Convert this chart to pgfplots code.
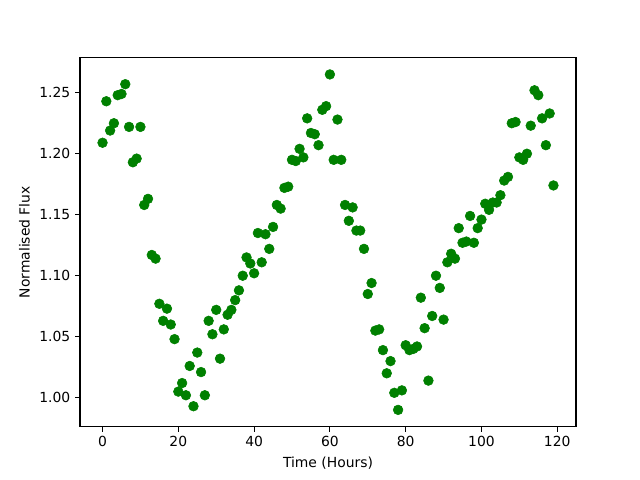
\documentclass[border=0pt]{standalone}
\usepackage{pgfplots}
\pgfplotsset{compat=1.18}
\usepackage{fontspec}
\setmainfont{DejaVu Sans}
\definecolor{mplgreen}{HTML}{008000}
\begin{document}
\fontsize{10}{12}\selectfont
\begin{tikzpicture}
\useasboundingbox (-57.6pt,-38.02pt) rectangle (403.2pt,307.2pt);
\begin{axis}[
  scale only axis,
  width=357.12pt, height=265.68pt,
  xmin=-5.95, xmax=124.95,
  ymin=0.97625, ymax=1.27875,
  xtick={0,20,40,60,80,100,120},
  ytick={1.00,1.05,1.10,1.15,1.20,1.25},
  yticklabel style={/pgf/number format/.cd, fixed, fixed zerofill, precision=2},
  /pgf/number format/assume math mode=true,
  tick align=outside,
  tick pos=left,
  major tick length=3.5pt,
  every tick/.style={line width=0.8pt, black},
  axis line style={line width=0.8pt},
  tick label style={font=\fontsize{10}{12}\selectfont},
  label style={font=\fontsize{10}{12}\selectfont},
  xlabel={Time (Hours)},
  ylabel={Normalised Flux},
  xlabel style={yshift=0pt},
  ylabel style={yshift=0pt},
]
\addplot[only marks, mark=*, mark size=3.5pt, color=mplgreen, mark options={draw=mplgreen, fill=mplgreen}] coordinates {
(0,1.209)(1,1.243)(2,1.219)(3,1.225)(4,1.248)(5,1.249)(6,1.257)(7,1.222)(8,1.193)(9,1.196)
(10,1.222)(11,1.158)(12,1.163)(13,1.117)(14,1.114)(15,1.077)(16,1.063)(17,1.073)(18,1.060)(19,1.048)
(20,1.005)(21,1.012)(22,1.002)(23,1.026)(24,0.993)(25,1.037)(26,1.021)(27,1.002)(28,1.063)(29,1.052)
(30,1.072)(31,1.032)(32,1.056)(33,1.068)(34,1.072)(35,1.080)(36,1.088)(37,1.100)(38,1.115)(39,1.110)
(40,1.102)(41,1.135)(42,1.111)(43,1.134)(44,1.122)(45,1.140)(46,1.158)(47,1.155)(48,1.172)(49,1.173)
(50,1.195)(51,1.194)(52,1.204)(53,1.197)(54,1.229)(55,1.217)(56,1.216)(57,1.207)(58,1.236)(59,1.239)
(60,1.265)(61,1.195)(62,1.228)(63,1.195)(64,1.158)(65,1.145)(66,1.156)(67,1.137)(68,1.137)(69,1.122)
(70,1.085)(71,1.094)(72,1.055)(73,1.056)(74,1.039)(75,1.020)(76,1.030)(77,1.004)(78,0.990)(79,1.006)
(80,1.043)(81,1.039)(82,1.040)(83,1.042)(84,1.082)(85,1.057)(86,1.014)(87,1.067)(88,1.100)(89,1.090)
(90,1.064)(91,1.111)(92,1.118)(93,1.114)(94,1.139)(95,1.127)(96,1.128)(97,1.149)(98,1.127)(99,1.139)
(100,1.146)(101,1.159)(102,1.154)(103,1.160)(104,1.160)(105,1.166)(106,1.178)(107,1.181)(108,1.225)(109,1.226)
(110,1.197)(111,1.195)(112,1.200)(113,1.223)(114,1.252)(115,1.248)(116,1.229)(117,1.207)(118,1.233)(119,1.174)
};
\end{axis}
\end{tikzpicture}
\end{document}
